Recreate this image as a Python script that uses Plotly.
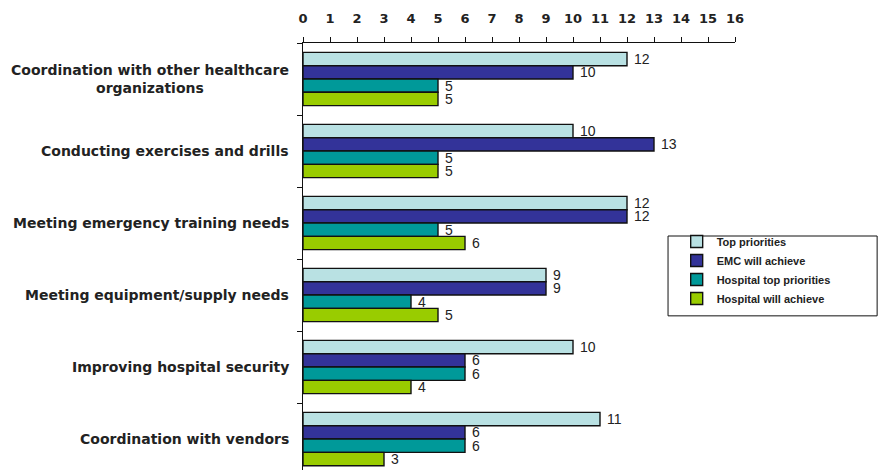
import plotly.graph_objects as go

categories = [
    "Coordination with other healthcare<br>organizations",
    "Conducting exercises and drills",
    "Meeting emergency training needs",
    "Meeting equipment/supply needs",
    "Improving hospital security",
    "Coordination with vendors",
]
series_names = ["Top priorities", "EMC will achieve", "Hospital top priorities", "Hospital will achieve"]
top_priorities = [12, 10, 12, 9, 10, 11]
emc_will_achieve = [10, 13, 12, 9, 6, 6]
hospital_top_priorities = [5, 5, 5, 4, 6, 6]
hospital_will_achieve = [5, 5, 6, 5, 4, 3]
x_ticks = list(range(0, 17))

series_values = [top_priorities, emc_will_achieve, hospital_top_priorities, hospital_will_achieve]
colors = ["#b9e1e3", "#333399", "#009999", "#99cc00"]

FONT = "Liberation Sans, Arial, sans-serif"
BOLD = "DejaVu Sans, Verdana, sans-serif"

fig = go.Figure()
for name, vals, col in zip(series_names, series_values, colors):
    fig.add_trace(go.Bar(
        name=name, y=categories, x=vals, orientation="h",
        marker=dict(color=col, line=dict(color="#111111", width=1.4)),
        text=[" " + str(v) for v in vals], textposition="outside",
        constraintext="none", cliponaxis=False,
        textfont=dict(family=FONT, size=14, color="#222222"),
    ))

for c in categories:
    fig.add_annotation(
        x=0, xref="paper", y=c, yref="y", text="<b>%s</b>" % c,
        xanchor="right", yanchor="middle", align="center", xshift=-12,
        showarrow=False, font=dict(family=BOLD, size=14, color="#222222"),
    )

# legend box
fig.add_shape(type="rect", xref="paper", yref="paper",
              x0=0.845, x1=1.329, y0=0.361, y1=0.548,
              line=dict(color="#111111", width=1), fillcolor="white", layer="below")

fig.update_layout(
    width=882, height=470,
    margin=dict(l=303, r=147, t=43, b=0, pad=0),
    plot_bgcolor="white", paper_bgcolor="white",
    barmode="group", bargap=0.26, bargroupgap=0,
    showlegend=True,
    legend=dict(x=0.865, y=0.569, xanchor="left", yanchor="top",
                bgcolor="rgba(0,0,0,0)", borderwidth=0,
                font=dict(family=FONT, size=11, color="#222222", weight="bold"),
                tracegroupgap=0),
    xaxis=dict(side="top", range=[0, 16], tickvals=x_ticks,
               ticktext=[str(t) for t in x_ticks],
               ticks="outside", ticklen=5, tickcolor="#111111",
               ticklabelstandoff=9,
               showline=True, linecolor="#111111", linewidth=1,
               showgrid=False, zeroline=False,
               tickfont=dict(family=BOLD, size=13, color="#222222", weight="bold")),
    yaxis=dict(categoryorder="array", categoryarray=categories,
               range=[5.43, -0.5], tickson="boundaries",
               ticks="outside", ticklen=5, tickcolor="#111111",
               showticklabels=False, showline=True, linecolor="#111111",
               linewidth=1, showgrid=False, zeroline=False),
)

fig.write_html("out.html", config={"displayModeBar": False},
               post_script="document.body.style.margin='0';document.body.style.overflow='hidden';")
